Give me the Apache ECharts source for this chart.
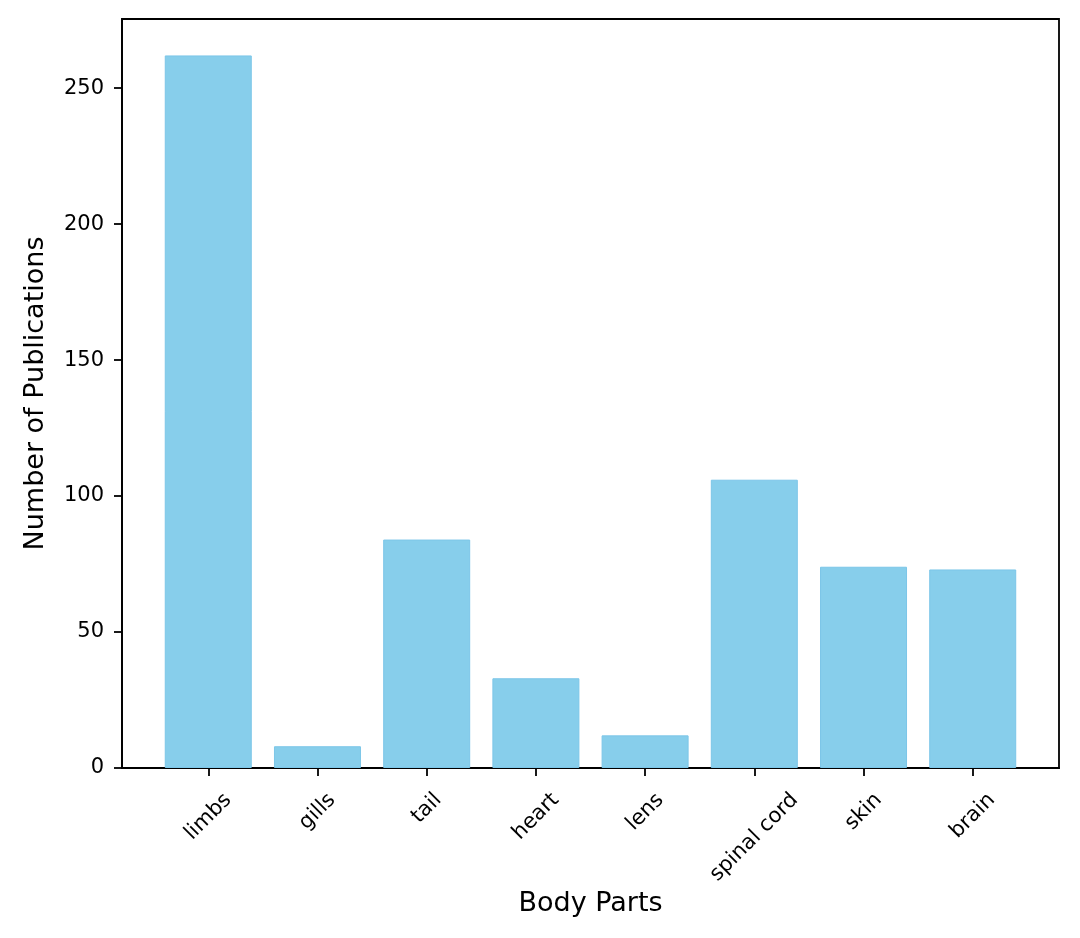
<!DOCTYPE html>
<html>
<head>
<meta charset="utf-8">
<script src="https://cdn.jsdelivr.net/npm/echarts@6/dist/echarts.min.js"></script>
<style>
html,body{margin:0;padding:0;background:#fff;}
#chart{width:1080px;height:938px;}
</style>
</head>
<body>
<div id="chart"></div>
<script>
const categories = ['limbs', 'gills', 'tail', 'heart', 'lens', 'spinal cord', 'skin', 'brain'];
const publications = [262, 8, 84, 33, 12, 106, 74, 73];
const yTicks = [0, 50, 100, 150, 200, 250];
const xTicks = categories.map((c, i) => i);

const FONT = '"DejaVu Sans", Verdana, sans-serif';
const TICK_FS = 21;
const LH = 25;

// emulate centred rotated labels (matplotlib style): shift each label by padding
const ctx = document.createElement('canvas').getContext('2d');
ctx.font = TICK_FS + 'px "DejaVu Sans"';
const rich = {};
categories.forEach((c, i) => {
  const w = ctx.measureText(c).width;
  const p = (w + LH) / 2;
  rich['c' + i] = {
    fontFamily: FONT, fontSize: TICK_FS, color: '#000', lineHeight: LH,
    padding: [p, p, 0, 0]
  };
});

const chart = echarts.init(document.getElementById('chart'), null, {renderer: 'canvas'});
chart.setOption({
  animation: false,
  backgroundColor: '#fff',
  grid: {
    left: 122, right: 21, top: 19, bottom: 170,
    show: true, borderColor: '#000', borderWidth: 1.8,
    containLabel: false, outerBoundsMode: 'none'
  },
  xAxis: {
    type: 'value',
    min: -0.79, max: 7.79,
    name: 'Body Parts',
    nameLocation: 'middle',
    nameGap: 122,
    nameMoveOverlap: false,
    nameTextStyle: {fontFamily: FONT, fontSize: 27, color: '#000'},
    axisLine: {show: true, onZero: false, lineStyle: {color: '#000', width: 1.8}},
    axisTick: {show: true, length: 8, lineStyle: {color: '#000', width: 1.8}, customValues: xTicks},
    axisLabel: {
      show: true, rotate: 45, margin: 20, align: 'center', verticalAlign: 'middle',
      customValues: xTicks,
      formatter: v => { const i = Math.round(v); return '{c' + i + '|' + categories[i] + '}'; },
      rich: rich,
      fontFamily: FONT, fontSize: TICK_FS, color: '#000'
    },
    splitLine: {show: false}
  },
  yAxis: {
    type: 'value',
    min: 0, max: 275.4, interval: 50,
    name: 'Number of Publications',
    nameLocation: 'middle',
    nameGap: 73,
    nameMoveOverlap: false,
    nameTextStyle: {fontFamily: FONT, fontSize: 27, color: '#000'},
    axisLine: {show: true, onZero: false, lineStyle: {color: '#000', width: 1.8}},
    axisTick: {show: true, length: 8, lineStyle: {color: '#000', width: 1.8}, customValues: yTicks},
    axisLabel: {
      show: true, margin: 18, customValues: yTicks,
      fontFamily: FONT, fontSize: TICK_FS, color: '#000'
    },
    splitLine: {show: false}
  },
  series: [{
    type: 'bar',
    data: publications.map((v, i) => [i, v]),
    barWidth: 87,
    itemStyle: {color: '#87CEEB', borderColor: '#7cc6e8', borderWidth: 1}
  }]
});
</script>
</body>
</html>
